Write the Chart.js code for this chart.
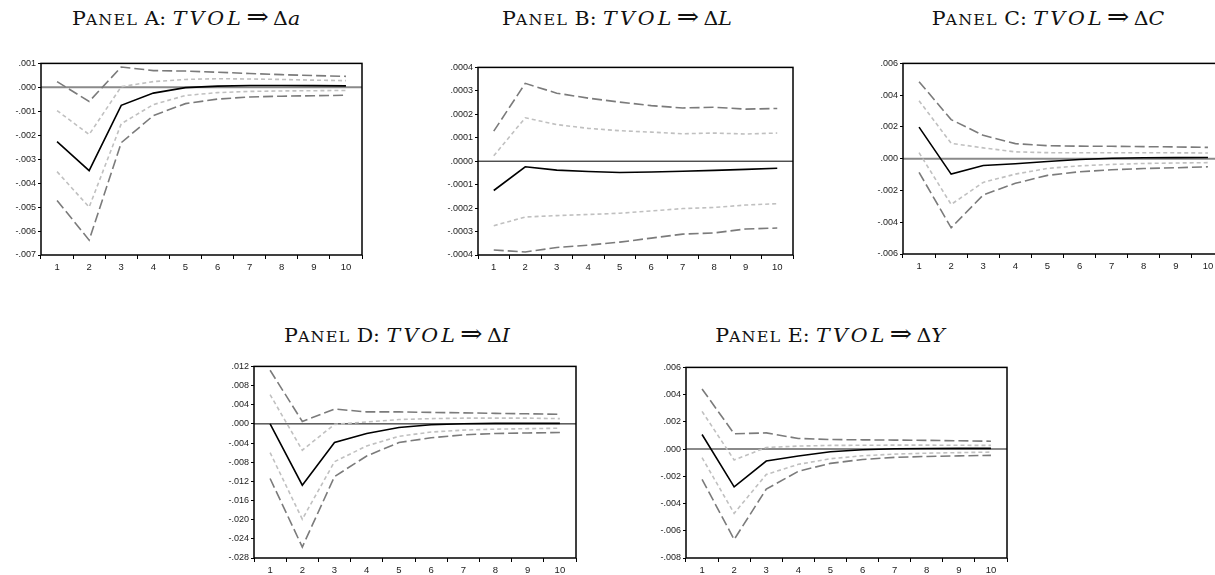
<!DOCTYPE html>
<html>
<head>
<meta charset="utf-8">
<script src="https://cdn.jsdelivr.net/npm/chart.js@4.4.1/dist/chart.umd.min.js"></script>
<style>
  html, body { margin: 0; padding: 0; background: #fff; overflow: hidden; width: 1215px; height: 575px; }
  .ttl { position: absolute; transform: translateX(-50%) scaleX(1.08); white-space: nowrap; line-height: 1;
         font-family: "DejaVu Serif", "Liberation Serif", serif; font-size: 19px; color: #111; }
  .ttl .sm { font-size: 0.78em; letter-spacing: 1px; }
  .ttl i { letter-spacing: 3px; }
  .ttl .arr { font-size: 1.3em; margin: 0 4px 0 2px; line-height: 0; }
  .ttl .d i { letter-spacing: 0; }
  canvas { position: absolute; }
</style>
</head>
<body>
<div class="ttl" style="left:186px;top:9px">P<span class="sm">ANEL</span> A: <i>TVOL</i><span class="arr">⇒</span><span class="d">Δ<i>a</i></span></div>
<div class="ttl" style="left:617px;top:9px">P<span class="sm">ANEL</span> B: <i>TVOL</i><span class="arr">⇒</span><span class="d">Δ<i>L</i></span></div>
<div class="ttl" style="left:1048px;top:9px">P<span class="sm">ANEL</span> C: <i>TVOL</i><span class="arr">⇒</span><span class="d">Δ<i>C</i></span></div>
<div class="ttl" style="left:397px;top:326px">P<span class="sm">ANEL</span> D: <i>TVOL</i><span class="arr">⇒</span><span class="d">Δ<i>I</i></span></div>
<div class="ttl" style="left:830px;top:326px">P<span class="sm">ANEL</span> E: <i>TVOL</i><span class="arr">⇒</span><span class="d">Δ<i>Y</i></span></div>

<canvas id="panelA"></canvas>
<canvas id="panelB"></canvas>
<canvas id="panelC"></canvas>
<canvas id="panelD"></canvas>
<canvas id="panelE"></canvas>

<script>
const horizons = ["1", "2", "3", "4", "5", "6", "7", "8", "9", "10"];

// Panel A: TVOL => Δa
const aResp = [-0.00227, -0.00348, -0.00075, -0.00024, -0.00001, 0.00005, 0.00008, 0.00008, 0.00007, 0.00006];
const aUp2 = [0.00024, -0.00059, 0.00085, 0.0007, 0.00068, 0.00063, 0.00058, 0.00053, 0.00049, 0.00046];
const aUp1 = [-0.00097, -0.00197, 0.00003, 0.00024, 0.00033, 0.00036, 0.00035, 0.00033, 0.0003, 0.00028];
const aLo1 = [-0.00352, -0.005, -0.00152, -0.00072, -0.00034, -0.00022, -0.00017, -0.00015, -0.00014, -0.00013];
const aLo2 = [-0.00472, -0.00638, -0.00231, -0.00118, -0.00068, -0.00049, -0.0004, -0.00037, -0.00035, -0.00033];

// Panel B: TVOL => ΔL
const bResp = [-0.000125, -0.000024, -0.000038, -0.000044, -0.000048, -0.000046, -0.000043, -0.000039, -0.000035, -0.00003];
const bUp2 = [0.000128, 0.000332, 0.00029, 0.000269, 0.000252, 0.000237, 0.000227, 0.00023, 0.000222, 0.000225];
const bUp1 = [0.000023, 0.000185, 0.000156, 0.00014, 0.00013, 0.000124, 0.000117, 0.00012, 0.000116, 0.00012];
const bLo1 = [-0.000275, -0.000238, -0.000232, -0.000227, -0.000222, -0.000212, -0.000202, -0.000197, -0.000187, -0.000181];
const bLo2 = [-0.000379, -0.000387, -0.000368, -0.000358, -0.000345, -0.000328, -0.000311, -0.000306, -0.000289, -0.000285];

// Panel C: TVOL => ΔC
const cResp = [0.00199, -0.00097, -0.00043, -0.00032, -0.00018, -0.00005, 0.00003, 0.00006, 0.00007, 0.00008];
const cUp2 = [0.00485, 0.00246, 0.00147, 0.00095, 0.00082, 0.00079, 0.00078, 0.00076, 0.00074, 0.00071];
const cUp1 = [0.00365, 0.00097, 0.00068, 0.00043, 0.00038, 0.00037, 0.00037, 0.00037, 0.00037, 0.00036];
const cLo1 = [0.00038, -0.00288, -0.00149, -0.00097, -0.00061, -0.00045, -0.00036, -0.0003, -0.00027, -0.00025];
const cLo2 = [-0.00086, -0.00435, -0.00228, -0.00155, -0.00105, -0.00082, -0.0007, -0.00062, -0.00057, -0.00051];

// Panel D: TVOL => ΔI
const dResp = [0, -0.0128, -0.0039, -0.002, -0.00074, -0.00018, 0.00003, 0.0001, 0.0001, 0.0001];
const dUp2 = [0.0112, 0.0005, 0.0031, 0.0025, 0.0025, 0.0024, 0.0023, 0.0022, 0.0021, 0.002];
const dUp1 = [0.0061, -0.0055, -0.0001, 0.0004, 0.0009, 0.0011, 0.0012, 0.0012, 0.0012, 0.0011];
const dLo1 = [-0.006, -0.0199, -0.0079, -0.0046, -0.0026, -0.0017, -0.0013, -0.0011, -0.001, -0.0009];
const dLo2 = [-0.0114, -0.0257, -0.011, -0.0067, -0.0039, -0.0029, -0.0023, -0.002, -0.0019, -0.0018];

// Panel E: TVOL => ΔY
const eResp = [0.00107, -0.00277, -0.00088, -0.00051, -0.0002, -0.00005, 0.00002, 0.00004, 0.00005, 0.00005];
const eUp2 = [0.00442, 0.00112, 0.00119, 0.00078, 0.0007, 0.00068, 0.00066, 0.00064, 0.00061, 0.00058];
const eUp1 = [0.00277, -0.0008, 0.00012, 0.00022, 0.00027, 0.00028, 0.00029, 0.00029, 0.00028, 0.00027];
const eLo1 = [-0.00063, -0.00472, -0.00187, -0.00112, -0.00071, -0.00049, -0.00037, -0.0003, -0.00026, -0.00022];
const eLo2 = [-0.00222, -0.00664, -0.00294, -0.00163, -0.00105, -0.00076, -0.00061, -0.00054, -0.0005, -0.00046];

// y axis ranges [min, max, step, decimals]
const aRange = [-0.007, 0.001, 0.001, 3];
const bRange = [-0.0004, 0.0004, 0.0001, 4];
const cRange = [-0.006, 0.006, 0.002, 3];
const dRange = [-0.028, 0.012, 0.004, 3];
const eRange = [-0.008, 0.006, 0.002, 3];

const Y_W = 40, X_H = 24, PAD_T = 6, PAD_R = 4;

// zero line under the curves
const zeroLine = {
  id: "zeroLine",
  beforeDatasetsDraw(chart, args, opts) {
    const { ctx, chartArea } = chart;
    const y = chart.scales.y.getPixelForValue(0);
    ctx.save();
    ctx.strokeStyle = opts.color;
    ctx.lineWidth = opts.width;
    ctx.beginPath();
    ctx.moveTo(chartArea.left, y);
    ctx.lineTo(chartArea.right, y);
    ctx.stroke();
    ctx.restore();
  },
};

// box around the plot
const frame = {
  id: "frame",
  afterDraw(chart) {
    const { ctx, chartArea: { left, top, right, bottom } } = chart;
    ctx.save();
    ctx.strokeStyle = "#000";
    ctx.lineWidth = 1.5;
    ctx.strokeRect(left, top, right - left, bottom - top);
    ctx.restore();
  },
};

function fmt(v, dec) {
  let s = Number(v).toFixed(dec);
  if (/^-0\.0+$/.test(s)) s = s.slice(1);
  return s.replace(/^(-?)0\./, "$1.");
}

function drawPanel(id, box, range, resp, up1, lo1, up2, lo2, zero) {
  const [plotLeft, plotTop, plotW, plotH] = box;
  const cv = document.getElementById(id);
  cv.width = Y_W + plotW + PAD_R;
  cv.height = PAD_T + plotH + X_H;
  cv.style.left = (plotLeft - Y_W) + "px";
  cv.style.top = (plotTop - PAD_T) + "px";

  const dark = { borderColor: "#7b7b7b", borderWidth: 1.6, borderDash: [10, 4] };
  const light = { borderColor: "#c0c0c0", borderWidth: 1.6, borderDash: [4, 3] };

  new Chart(cv.getContext("2d"), {
    type: "line",
    data: {
      labels: horizons,
      datasets: [
        { label: "+2 S.E.", data: up2, ...dark },
        { label: "-2 S.E.", data: lo2, ...dark },
        { label: "+1 S.E.", data: up1, ...light },
        { label: "-1 S.E.", data: lo1, ...light },
        { label: "Response", data: resp, borderColor: "#000", borderWidth: 1.6 },
      ],
    },
    options: {
      responsive: false,
      animation: false,
      devicePixelRatio: 1,
      layout: { padding: { top: PAD_T, right: PAD_R, left: 0, bottom: 0 } },
      elements: { point: { radius: 0 }, line: { tension: 0, fill: false } },
      plugins: {
        legend: { display: false },
        tooltip: { enabled: false },
        zeroLine: zero,
      },
      scales: {
        x: {
          offset: true,
          grid: { offset: true, drawOnChartArea: false, drawTicks: true, tickLength: 4, color: "#000" },
          border: { display: false },
          ticks: { color: "#222", font: { family: "Liberation Sans, Arial, sans-serif", size: 9.5 }, padding: 3, maxRotation: 0 },
          afterFit: (s) => { s.height = X_H; },
        },
        y: {
          min: range[0],
          max: range[1],
          grid: { drawOnChartArea: false, drawTicks: true, tickLength: 3, color: "#000" },
          border: { display: false },
          ticks: {
            stepSize: range[2],
            color: "#222",
            font: { family: "Liberation Sans, Arial, sans-serif", size: 9 },
            padding: 2,
            callback: (v) => fmt(v, range[3]),
          },
          afterFit: (s) => { s.width = Y_W; },
        },
      },
    },
    plugins: [zeroLine, frame],
  });
}

const grayZero = { color: "#8a8a8a", width: 2 };
const blackZero = { color: "#000", width: 1 };

drawPanel("panelA", [41, 62, 321, 193], aRange, aResp, aUp1, aLo1, aUp2, aLo2, grayZero);
drawPanel("panelB", [478, 66, 315, 189], bRange, bResp, bUp1, bLo1, bUp2, bLo2, blackZero);
drawPanel("panelC", [903, 62, 321, 192], cRange, cResp, cUp1, cLo1, cUp2, cLo2, grayZero);
drawPanel("panelD", [254, 365, 322, 193], dRange, dResp, dUp1, dLo1, dUp2, dLo2, blackZero);
drawPanel("panelE", [686, 366, 321, 192], eRange, eResp, eUp1, eLo1, eUp2, eLo2, grayZero);
</script>
</body>
</html>
